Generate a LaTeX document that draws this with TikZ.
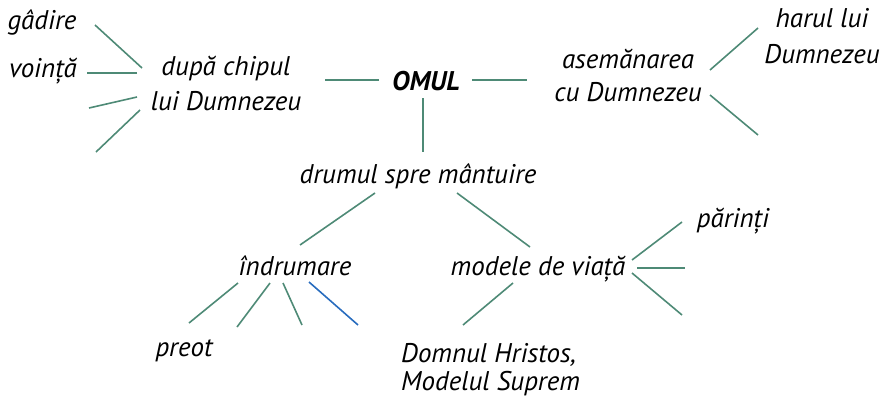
\documentclass[tikz,border=0pt]{standalone}
\usepackage{fontspec}
\setmainfont{PT Sans}
\usepackage{tikz}

\definecolor{lingreen}{RGB}{78,138,118}
\definecolor{linblue}{RGB}{40,108,190}

\begin{document}
\begin{tikzpicture}[x=1pt,y=1pt]
	
	\tikzset{word/.style = {inner sep=0pt,anchor=base,align=center,font=\fontsize{27}{33}\selectfont\itshape}}
	\tikzset{edge/.style = {draw=lingreen,line width=1.6pt}}
	
	\useasboundingbox (0,0) rectangle (885,-399);
	
	\node[word] (omul) at (426,-90) {\bfseries OMUL};
	\node[word] (chip) at (226,-110) {după chipul\\[2pt]lui Dumnezeu};
	\node[word] (asem) at (628,-101) {asemănarea\\cu Dumnezeu};
	\node[word] (gadire) at (42,-29) {gâdire};
	\node[word] (vointa) at (43,-77) {voință};
	\node[word] (har) at (822,-63) {harul lui\\[3pt]Dumnezeu};
	\node[word] (drum) at (418,-183) {drumul spre mântuire};
	\node[word] (indr) at (295,-275) {îndrumare};
	\node[word] (model) at (538,-275) {modele de viață};
	\node[word] (parinti) at (733,-227) {părinți};
	\node[word] (preot) at (184,-356) {preot};
	\node[word,anchor=base west,align=left] (hristos) at (401,-390) {Domnul Hristos,\\[-5pt]Modelul Suprem};
	
	% free ends
	\coordinate (c1) at (89,-108);
	\coordinate (c2) at (96,-152);
	\coordinate (a1) at (758,-135);
	\coordinate (i1) at (237,-327);
	\coordinate (i2) at (302,-325);
	\coordinate (i3) at (358,-325);
	\coordinate (m1) at (685,-268);
	\coordinate (m2) at (682,-315);
	
	\draw[edge] ([shift={(-47,10)}]omul.base) to ([shift={(99,30)}]chip.base);
	\draw[edge] ([shift={(46,10)}]omul.base) to ([shift={(-101,21)}]asem.base);
	\draw[edge] ([shift={(-3,-8)}]omul.base) to ([shift={(5,31)}]drum.base);
	
	\draw[edge] ([shift={(-84,42)}]chip.base) to ([shift={(53,4)}]gadire.base);
	\draw[edge] ([shift={(-89,37)}]chip.base) to ([shift={(44,4)}]vointa.base);
	\draw[edge] ([shift={(-89,13)}]chip.base) to (c1);
	\draw[edge] ([shift={(-86,0)}]chip.base) to (c2);
	
	\draw[edge] ([shift={(82,31)}]asem.base) to ([shift={(-64,35)}]har.base);
	\draw[edge] ([shift={(82,6)}]asem.base) to (a1);
	
	\draw[edge] ([shift={(-43,-10)}]drum.base) to ([shift={(5,30)}]indr.base);
	\draw[edge] ([shift={(39,-10)}]drum.base) to ([shift={(-8,28)}]model.base);
	
	\draw[edge] ([shift={(-57,-8)}]indr.base) to ([shift={(5,33)}]preot.base);
	\draw[edge] ([shift={(-25,-8)}]indr.base) to (i1);
	\draw[edge] ([shift={(-12,-8)}]indr.base) to (i2);
	\draw[edge,draw=linblue] ([shift={(14,-7)}]indr.base) to (i3);
	
	\draw[edge] ([shift={(-25,-8)}]model.base) to ([shift={(62,65)}]hristos.base west);
	\draw[edge] ([shift={(94,15)}]model.base) to ([shift={(-51,5)}]parinti.base);
	\draw[edge] ([shift={(99,7)}]model.base) to (m1);
	\draw[edge] ([shift={(94,2)}]model.base) to (m2);
	\end{tikzpicture}
\end{document}
